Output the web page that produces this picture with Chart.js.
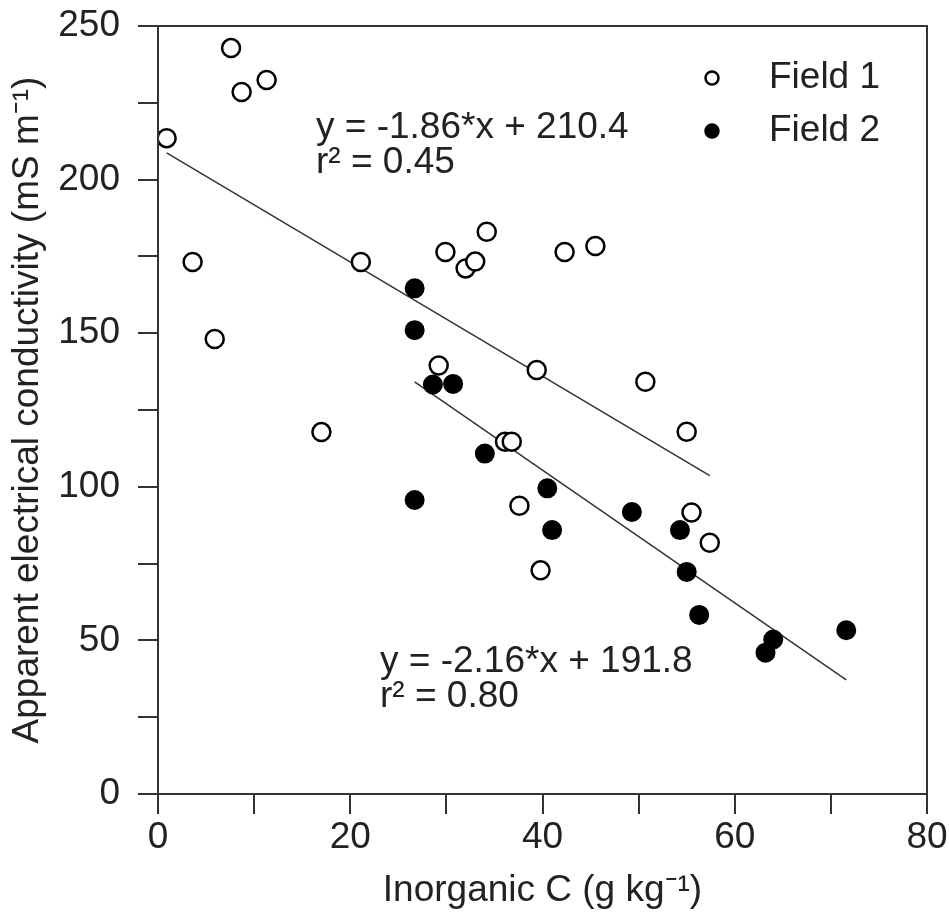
<!DOCTYPE html>
<html>
<head>
<meta charset="utf-8">
<script src="https://cdn.jsdelivr.net/npm/chart.js@4.4.0/dist/chart.umd.min.js"></script>
<style>
  html, body { margin: 0; padding: 0; background: #fff; }
  #wrap { width: 949px; height: 919px; }
</style>
</head>
<body>
<div id="wrap"><canvas id="chart" width="949" height="919"></canvas></div>
<script>
// Field 1 (open circles)
const field1X = [7.6, 8.7, 11.3, 0.9, 3.6, 5.9, 17.0, 21.1, 29.9, 34.2, 32.0, 33.0, 42.3, 45.5,
  29.2, 39.4, 50.7, 55.0, 36.1, 36.8, 37.6, 55.5, 57.4, 39.8];
const field1Y = [242.8, 228.5, 232.4, 213.5, 173.2, 148.1, 117.8, 173.2, 176.4, 183.0, 171.1, 173.3, 176.4, 178.4,
  139.5, 138.0, 134.2, 117.9, 114.7, 114.7, 93.8, 91.6, 81.8, 72.8];
// Field 2 (filled circles)
const field2X = [26.7, 26.7, 28.6, 30.7, 34.0, 26.7, 40.5, 41.0, 49.3, 54.3, 55.0, 56.3, 64.0, 63.2, 71.6];
const field2Y = [164.6, 151.0, 133.3, 133.5, 110.8, 95.7, 99.5, 85.9, 91.8, 85.9, 72.3, 58.3, 50.3, 46.0, 53.3];

// regression fits as printed on the figure
const fit1 = { slope: -1.86, intercept: 210.4, eq: 'y = -1.86*x + 210.4', r2: 'r\u00b2 = 0.45' };
const fit2 = { slope: -2.16, intercept: 191.8, eq: 'y = -2.16*x + 191.8', r2: 'r\u00b2 = 0.80' };

const seriesLabels = ['Field 1', 'Field 2'];
const xTitle = 'Inorganic C (g kg\u207b\u00b9)';
const yTitle = 'Apparent electrical conductivity (mS m\u207b\u00b9)';

const FONT = '"Liberation Sans", Arial, sans-serif';
const INK = '#222';

const toPoints = (xs, ys) => xs.map((x, i) => ({ x: x, y: ys[i] }));
const fitLine = (fit, xs) => {
  const lo = Math.min(...xs), hi = Math.max(...xs);
  return [{ x: lo, y: fit.slope * lo + fit.intercept }, { x: hi, y: fit.slope * hi + fit.intercept }];
};

// box around plot, legend and equations
const extras = {
  id: 'extras',
  afterDatasetsDraw(chart) {
    const { ctx, chartArea: a } = chart;
    ctx.save();
    ctx.strokeStyle = '#333';
    ctx.lineWidth = 2;
    ctx.strokeRect(a.left, a.top, a.right - a.left, a.bottom - a.top);

    ctx.font = '37px ' + FONT;
    ctx.fillStyle = INK;
    ctx.textBaseline = 'middle';
    ctx.textAlign = 'left';

    // legend
    const legY = [78, 131];
    seriesLabels.forEach((lab, i) => {
      ctx.beginPath();
      ctx.arc(712, legY[i], 6.5, 0, Math.PI * 2);
      ctx.fillStyle = i === 0 ? '#fff' : '#000';
      ctx.fill();
      ctx.lineWidth = 2.5;
      ctx.strokeStyle = '#000';
      ctx.stroke();
      ctx.fillStyle = INK;
      ctx.fillText(lab, 769, legY[i]);
    });

    // equations
    ctx.fillText(fit1.eq, 316, 128);
    ctx.fillText(fit1.r2, 316, 163);
    ctx.fillText(fit2.eq, 380, 662);
    ctx.fillText(fit2.r2, 380, 697);
    ctx.restore();
  }
};

new Chart(document.getElementById('chart'), {
  type: 'scatter',
  data: {
    datasets: [
      {
        label: seriesLabels[0],
        data: toPoints(field1X, field1Y),
        backgroundColor: '#fff',
        borderColor: '#000',
        borderWidth: 2.5,
        pointRadius: 9,
        order: 1
      },
      {
        label: seriesLabels[1],
        data: toPoints(field2X, field2Y),
        backgroundColor: '#000',
        borderColor: '#000',
        borderWidth: 2,
        pointRadius: 9,
        order: 1
      },
      {
        type: 'line',
        data: fitLine(fit1, field1X),
        borderColor: '#333',
        borderWidth: 1.5,
        pointRadius: 0,
        order: 2
      },
      {
        type: 'line',
        data: fitLine(fit2, field2X),
        borderColor: '#333',
        borderWidth: 1.5,
        pointRadius: 0,
        order: 2
      }
    ]
  },
  options: {
    responsive: false,
    animation: false,
    layout: { padding: { top: 26, right: 22, left: 0, bottom: 0 } },
    plugins: { legend: { display: false }, tooltip: { enabled: false } },
    scales: {
      x: {
        type: 'linear',
        min: 0, max: 80,
        afterFit: (s) => { s.height = 125; s.paddingLeft = 0; s.paddingRight = 0; },
        ticks: {
          stepSize: 10,
          padding: 2,
          color: INK,
          font: { family: FONT, size: 37 },
          maxRotation: 0,
          callback: (v) => (v % 20 === 0 ? v : '')
        },
        grid: { drawOnChartArea: false, drawTicks: true, tickLength: 20, color: '#333', lineWidth: 2 },
        border: { display: true, color: '#333', width: 2 },
        title: { display: true, text: xTitle, color: INK, font: { family: FONT, size: 37 }, padding: { top: 0, bottom: 6 } }
      },
      y: {
        type: 'linear',
        min: 0, max: 250,
        afterFit: (s) => { s.width = 158; s.paddingTop = 0; s.paddingBottom = 0; },
        ticks: {
          stepSize: 25,
          padding: 18,
          color: INK,
          font: { family: FONT, size: 37 },
          callback: (v) => (v % 50 === 0 ? v : '')
        },
        grid: { drawOnChartArea: false, drawTicks: true, tickLength: 20, color: '#333', lineWidth: 2 },
        border: { display: true, color: '#333', width: 2 },
        title: { display: true, text: yTitle, color: INK, font: { family: FONT, size: 37 }, padding: { top: 6, bottom: 0 } }
      }
    }
  },
  plugins: [extras]
});
</script>
</body>
</html>
